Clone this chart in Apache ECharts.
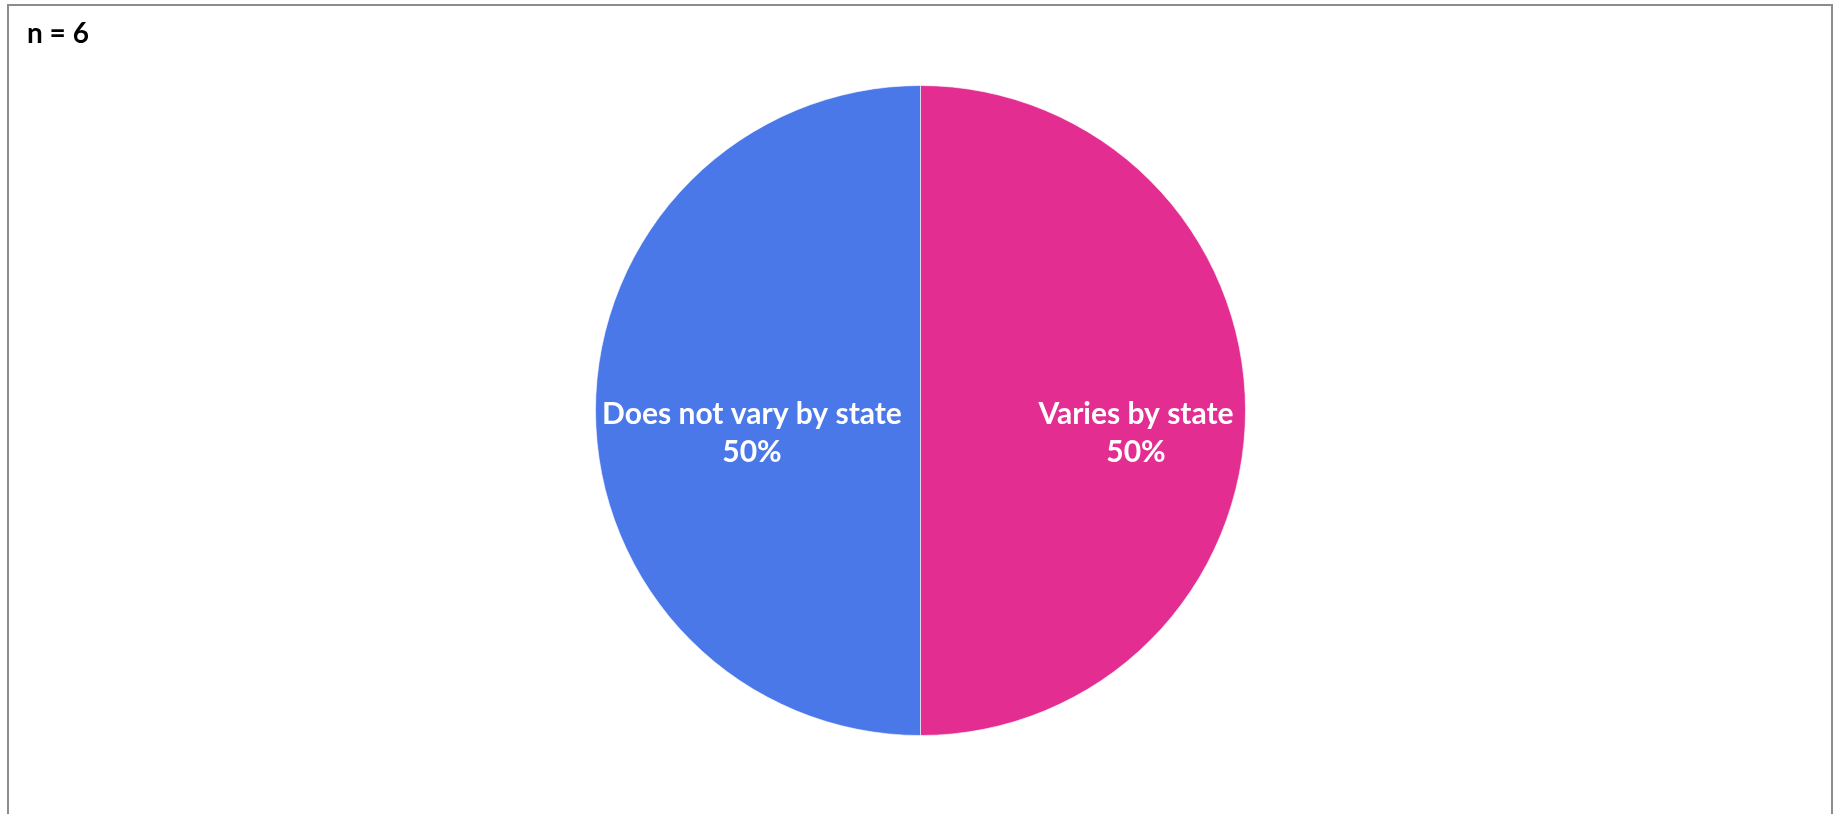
<!DOCTYPE html>
<html>
<head>
<meta charset="utf-8">
<script src="https://cdn.jsdelivr.net/npm/echarts@6/dist/echarts.min.js"></script>
<style>
html,body{margin:0;padding:0;background:#fff;}
#chart{width:1837px;height:814px;}
</style>
</head>
<body>
<div id="chart"></div>
<script>
const categories = ['Varies by state', 'Does not vary by state'];
const counts = [3, 3];
const colors = ['#E32D91', '#4A78E8'];
const titleText = 'n = 6';

const chart = echarts.init(document.getElementById('chart'), null, {renderer: 'canvas'});
const labelOffsets = [[50, 23], [-3, 23]];
chart.setOption({
  animation: false,
  graphic: [{
    type: 'rect',
    shape: {x: 8, y: 5, width: 1824, height: 900},
    style: {fill: 'none', stroke: '#8c8c8c', lineWidth: 2},
    silent: true
  }],
  title: {
    text: titleText,
    left: 22, top: 15,
    textStyle: {fontFamily: 'Lato', fontWeight: 'bold', fontSize: 28, color: '#000'}
  },
  series: [{
    type: 'pie',
    center: [920.5, 410.5],
    radius: [0, 325],
    startAngle: 90,
    clockwise: true,
    percentPrecision: 0,
    data: categories.map((c, i) => ({
      name: c, value: counts[i],
      itemStyle: {color: colors[i]},
      label: {offset: labelOffsets[i]}
    })),
    itemStyle: {borderColor: 'rgba(255,255,255,0.6)', borderWidth: 1},
    label: {
      show: true,
      position: 'inner',
      formatter: '{b}\n{d}%',
      fontFamily: 'Lato', fontWeight: 'bold', fontSize: 30,
      lineHeight: 38, color: '#fff', align: 'center'
    },
    labelLine: {show: false},
    emphasis: {disabled: true}
  }]
});
</script>
</body>
</html>
